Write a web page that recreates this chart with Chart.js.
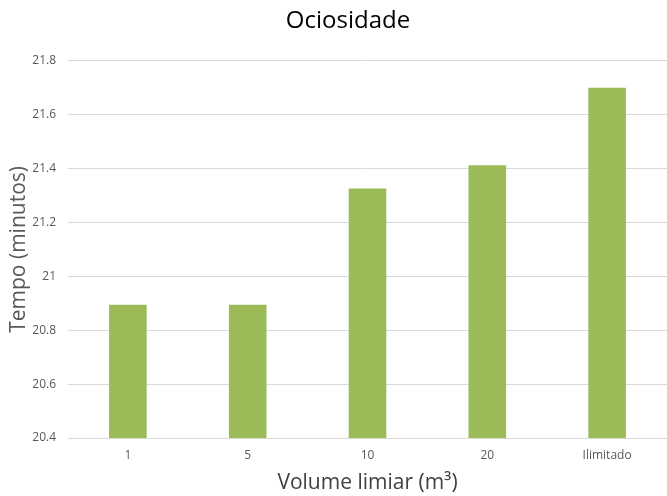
<!DOCTYPE html>
<html>
<head>
<meta charset="utf-8">
<script src="https://cdn.jsdelivr.net/npm/chart.js@4/dist/chart.umd.min.js"></script>
<style>
  html, body { margin: 0; padding: 0; background: #fff; }
  #wrap { width: 667px; height: 496px; }
</style>
</head>
<body>
<div id="wrap"><canvas id="chart"></canvas></div>
<script>
const categories = ['1', '5', '10', '20', 'Ilimitado'];
const ociosidade = [20.895, 20.895, 21.326, 21.412, 21.70];
const yTicks = [20.4, 20.6, 20.8, 21, 21.2, 21.4, 21.6, 21.8];

const FONT = "'Open Sans', 'Noto Sans', sans-serif";

// shift the title centre a bit to the right, like the original
const titleShift = {
  id: 'titleShift',
  afterLayout(chart) {
    if (chart.titleBlock) chart.titleBlock.left = 29;
  }
};

new Chart(document.getElementById('chart'), {
  type: 'bar',
  data: {
    labels: categories,
    datasets: [{
      data: ociosidade,
      backgroundColor: '#9bbb59',
      barPercentage: 0.314,
      categoryPercentage: 1
    }]
  },
  options: {
    responsive: true,
    maintainAspectRatio: false,
    animation: false,
    layout: { padding: 0 },
    plugins: {
      legend: { display: false },
      tooltip: { enabled: false },
      title: {
        display: true,
        text: 'Ociosidade',
        color: '#000',
        font: { family: FONT, size: 24, weight: 'normal' },
        padding: { top: 7, bottom: 25 }
      }
    },
    scales: {
      x: {
        grid: { display: false },
        border: { display: false },
        ticks: { color: '#595959', font: { family: FONT, size: 12 }, padding: 2 },
        title: {
          display: true,
          text: 'Volume limiar (m³)',
          color: '#404040',
          font: { family: FONT, size: 21 },
          padding: { top: 2, bottom: 0 }
        },
        afterFit(scale) { scale.height = 58; }
      },
      y: {
        min: 20.4,
        max: 21.8,
        afterBuildTicks(scale) { scale.ticks = yTicks.map(v => ({ value: v })); },
        grid: { color: '#d9d9d9', lineWidth: 1, drawTicks: false },
        border: { display: false },
        ticks: {
          color: '#595959',
          font: { family: FONT, size: 12 },
          padding: 12,
          callback: v => String(+v.toFixed(1))
        },
        title: {
          display: true,
          text: 'Tempo (minutos)',
          color: '#595959',
          font: { family: FONT, size: 21 },
          padding: { top: 6, bottom: 0 }
        },
        afterFit(scale) { scale.width = 68; }
      }
    }
  },
  plugins: [titleShift]
});
</script>
</body>
</html>
